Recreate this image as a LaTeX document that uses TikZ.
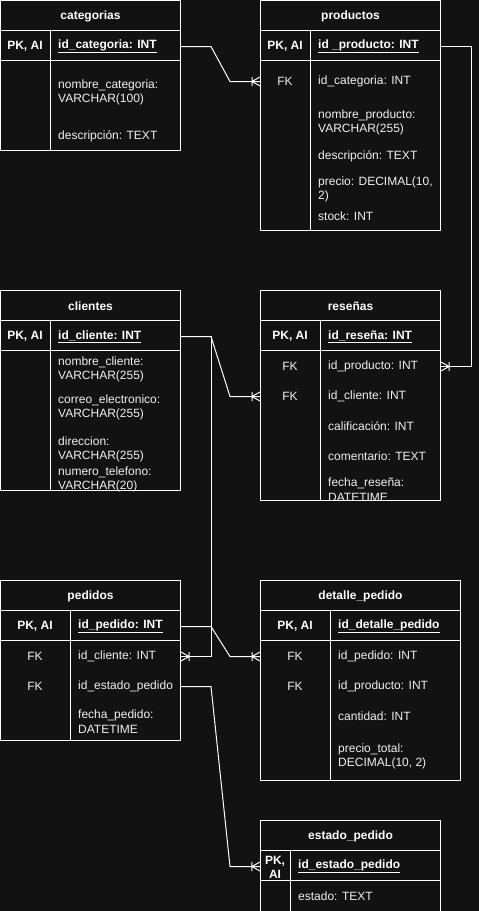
\documentclass[tikz,border=0pt]{standalone}
\usepackage{fontspec}
\setmainfont{Liberation Sans}
\usetikzlibrary{decorations.markings}
\definecolor{bgc}{HTML}{121212}
\definecolor{txtc}{HTML}{F0F0F0}
\newcommand{\fs}{\fontsize{12}{14.5}\selectfont}
% table frame: name, x, y, width, height, key column, title
\newcommand{\ertab}[7]{%
	\node[tab,minimum width=#4pt,minimum height=#5pt] (#1) at (#2,#3) {};
	\draw[tabline] ([yshift=-30pt]#1.north west)--([yshift=-30pt]#1.north east)
		([yshift=-60pt]#1.north west)--([yshift=-60pt]#1.north east)
		([shift={(#6pt,-30pt)}]#1.north west)--([xshift=#6pt]#1.south west);
	\node[ttl] (#1-t) at ([yshift=-15pt]#1.north) {#7};
}
\begin{document}
\begin{tikzpicture}[x=1pt,y=-1pt,line join=round,
	tab/.style={draw=white,line width=1pt,fill=bgc,anchor=north west,inner sep=0pt},
	tabline/.style={draw=white,line width=1pt},
	ttl/.style={font=\fs\bfseries,text=white,inner sep=0pt,yshift=-1.5pt},
	key/.style={font=\fs\bfseries,text=white,inner sep=0pt,align=center,yshift=-1.5pt},
	fk/.style={font=\fs,text=txtc,inner sep=0pt,yshift=-1.5pt},
	fld/.style={font=\fs,text=txtc,inner sep=0pt,anchor=west,align=left,yshift=-1.5pt},
	pkf/.style={font=\fs\bfseries,text=white},
	rel/.style={draw=white,line width=1pt},
	crow/.style={rel,postaction={decorate,decoration={markings,mark=at position 0.99999 with {\draw[line width=1pt] (0,-4.5)--(-8,0)--(0,4.5) (-8,-4.5)--(-8,4.5);}}}}]
	\fill[bgc] (0,0) rectangle (479,911);
	\useasboundingbox (0,0) rectangle (479,911);
	\ertab{categorias}{0}{0}{180}{150}{50}{categorias}
	\ertab{productos}{260}{0}{180}{230}{50}{productos}
	\ertab{clientes}{0}{290}{180}{200}{50}{clientes}
	\ertab{resenas}{260}{290}{180}{210}{60}{reseñas}
	\ertab{pedidos}{0}{580}{180}{160}{70}{pedidos}
	\ertab{detalle}{260}{580}{200}{200}{70}{detalle\_pedido}
	\ertab{estado}{260}{820}{180}{95}{30}{estado\_pedido}
	%categorias
	\node[key] (catpk) at (25,45) {PK, AI};
	\node[fld,pkf] (catid) at (58,45) {\underline{id\_categoria: INT}};
	\node[fld] (catnom) at (58,91) {nombre\_categoria:\\VARCHAR(100)};
	\node[fld] (catdes) at (58,135) {descripción: TEXT};
	%productos
	\node[key] (prodpk) at (285,45) {PK, AI};
	\node[fld,pkf] (prodid) at (318,45) {\underline{id \_producto: INT}};
	\node[fk] (prodfk) at (285,80) {FK};
	\node[fld] (prodcat) at (318,80) {id\_categoria: INT};
	\node[fld] (prodnom) at (318,121) {nombre\_producto:\\VARCHAR(255)};
	\node[fld] (proddes) at (318,155) {descripción: TEXT};
	\node[fld] (prodpre) at (318,188) {precio: DECIMAL(10,\\2)};
	\node[fld] (prodsto) at (318,215) {stock: INT};
	%clientes
	\node[key] (clipk) at (25,335) {PK, AI};
	\node[fld,pkf] (cliid) at (58,335) {\underline{id\_cliente: INT}};
	\node[fld] (clinom) at (58,368) {nombre\_cliente:\\VARCHAR(255)};
	\node[fld] (clicor) at (58,406) {correo\_electronico:\\VARCHAR(255)};
	\node[fld] (clidir) at (58,448) {direccion:\\VARCHAR(255)};
	\node[fld] (clitel) at (58,478) {numero\_telefono:\\VARCHAR(20)};
	%reseñas
	\node[key] (respk) at (290,335) {PK, AI};
	\node[fld,pkf] (resid) at (328,335) {\underline{id\_reseña: INT}};
	\node[fk] (resfk1) at (290,365) {FK};
	\node[fld] (resprod) at (328,365) {id\_producto: INT};
	\node[fk] (resfk2) at (290,395) {FK};
	\node[fld] (rescli) at (328,395) {id\_cliente: INT};
	\node[fld] (rescal) at (328,425) {calificación: INT};
	\node[fld] (rescom) at (328,455) {comentario: TEXT};
	\node[fld] (resfec) at (328,488) {fecha\_reseña:\\DATETIME};
	%pedidos
	\node[key] (pedpk) at (35,625) {PK, AI};
	\node[fld,pkf] (pedid) at (78,625) {\underline{id\_pedido: INT}};
	\node[fk] (pedfk1) at (35,655) {FK};
	\node[fld] (pedcli) at (78,655) {id\_cliente: INT};
	\node[fk] (pedfk2) at (35,685) {FK};
	\node[fld] (pedest) at (78,685) {id\_estado\_pedido};
	\node[fld] (pedfec) at (78,720) {fecha\_pedido:\\DATETIME};
	%detalle_pedido
	\node[key] (detpk) at (295,625) {PK, AI};
	\node[fld,pkf] (detid) at (338,625) {\underline{id\_detalle\_pedido}};
	\node[fk] (detfk1) at (295,655) {FK};
	\node[fld] (detped) at (338,655) {id\_pedido: INT};
	\node[fk] (detfk2) at (295,685) {FK};
	\node[fld] (detprod) at (338,685) {id\_producto: INT};
	\node[fld] (detcan) at (338,715) {cantidad: INT};
	\node[fld] (detpre) at (338,755) {precio\_total:\\DECIMAL(10, 2)};
	%estado_pedido
	\node[key] (estpk) at (275,866) {PK,\\AI};
	\node[fld,pkf] (estid) at (298,865) {\underline{id\_estado\_pedido}};
	\node[fld] (estest) at (298,895) {estado: TEXT};
	%relaciones
	\draw[crow] (categorias.east |- catid.west)--++(30,0)--([xshift=-30pt]productos.west |- prodcat.west)--(productos.west |- prodcat.west);
	\draw[crow] (productos.east |- prodid.west)--++(30,0)--([xshift=30pt]resenas.east |- resprod.west)--(resenas.east |- resprod.west);
	\draw[crow] (clientes.east |- cliid.west)--++(30,0)--([xshift=-30pt]resenas.west |- rescli.west)--(resenas.west |- rescli.west);
	\draw[crow] (clientes.east |- cliid.west)--++(30,0) |- (pedidos.east |- pedcli.west);
	\draw[crow] (pedidos.east |- pedid.west)--++(30,0)--([xshift=-30pt]detalle.west |- detped.west)--(detalle.west |- detped.west);
	\draw[crow] (pedidos.east |- pedest.west)--++(30,0)--([xshift=-30pt]estado.west |- estid.west)--(estado.west |- estid.west);
\end{tikzpicture}
\end{document}
